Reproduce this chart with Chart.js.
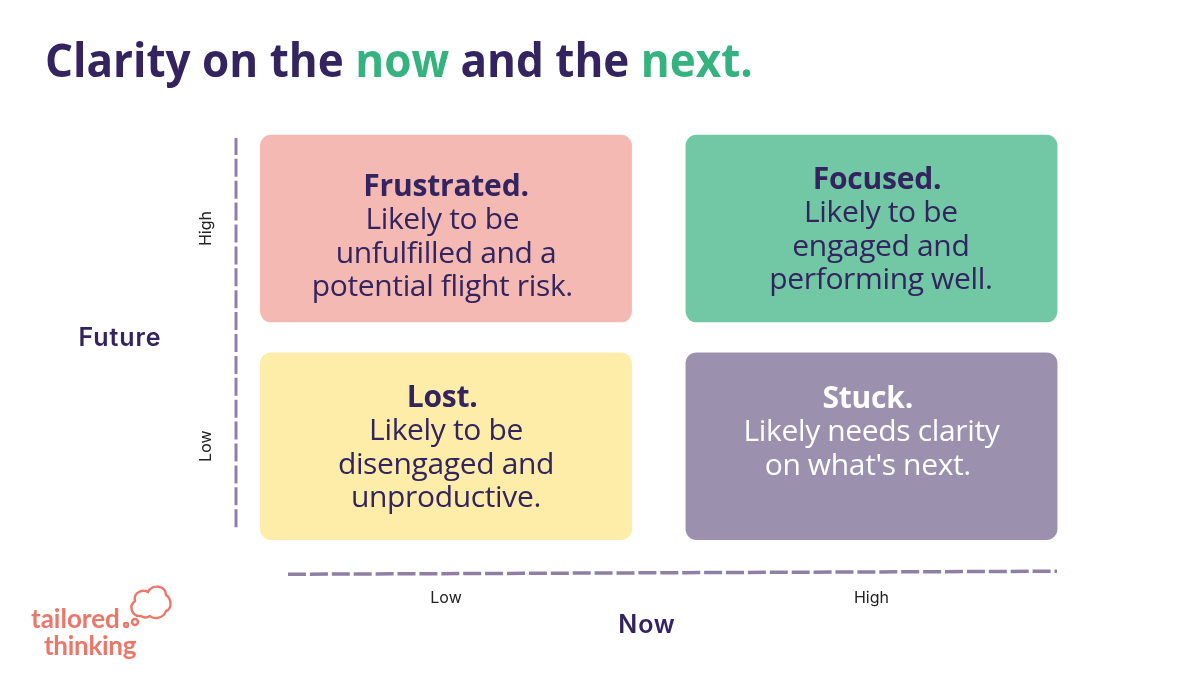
<!DOCTYPE html>
<html>
<head>
<meta charset="utf-8">
<title>Clarity on the now and the next.</title>
<script src="https://cdn.jsdelivr.net/npm/chart.js@4/dist/chart.umd.min.js"></script>
<style>
  html, body { margin: 0; padding: 0; background: #fff; }
  #page { position: relative; width: 1200px; height: 675px; overflow: hidden; }
  #chart { position: absolute; left: 0; top: 0; }
  h1 { position: absolute; left: 45px; top: 28px; margin: 0; font: 700 46px "Open Sans", sans-serif; color: #33235f; white-space: nowrap; transform: scaleX(0.957); transform-origin: left; }
  h1 span { color: #34b27f; }
  .logo { position: absolute; font: 700 26px Lato, sans-serif; color: #e9786a; line-height: 1; white-space: nowrap; letter-spacing: -0.3px; }
  svg { position: absolute; left: 120px; top: 580px; }
</style>
</head>
<body>
<div id="page">
  <canvas id="chart" width="1200" height="675"></canvas>
  <h1>Clarity on the <span>now</span> and the <span>next.</span></h1>
  <div class="logo" style="left:31px;top:605px;letter-spacing:0">tailored</div>
  <div class="logo" style="left:44px;top:632px">thinking</div>
  <svg width="56" height="52" viewBox="0 0 56 52" fill="none" stroke="#e9786a" stroke-width="2.4">
    <path d="M21 36 C12 37 8 26 15 21 C13 12 23 9 28 12 C32 4 46 5 46 15 C52 19 52 29 46 31 C44 38 34 40 30 36 C27 38 24 38 21 36 Z"/>
    <circle cx="15" cy="42" r="3"/>
    <circle cx="6" cy="45" r="2"/>
  </svg>
</div>
<script>
  const categories = ["Low", "High"];
  const yTickValues = [0.5, 1.5];
  const yTickLabels = ["Low", "High"];

  const lowRow = [[0.069, 0.931], [0.069, 0.931]];
  const highRow = [[1.069, 1.931], [1.069, 1.931]];
  const lowRowColors = ["#feeda9", "#9b91ae"];
  const highRowColors = ["#f4b9b3", "#72c7a4"];

  const futureAxisLine = [{ x: 0.0065, y: 0.1276 }, { x: 0.0065, y: 1.916 }];
  const nowAxisLine = [{ x: 0.1287, y: -0.0885 }, { x: 1.936, y: -0.0747 }];

  const cardHeads = ["Frustrated.", "Focused. ", "Lost. ", "Stuck. "];
  const cardLines = [
    ["Likely to be ", "unfulfilled and a", "potential flight risk. "],
    ["Likely to be", "engaged and", "performing well."],
    ["Likely to be", "disengaged and", "unproductive."],
    ["Likely needs clarity", "on what's next. "]
  ];
  const cardX = [0.5, 1.522, 0.5, 1.5];
  const cardY = [1.69, 1.722, 0.72, 0.716];
  const cardTextColors = ["#33235f", "#33235f", "#33235f", "#ffffff"];

  const axisNames = ["Future", "Now"];

  const textPlugin = {
    id: "quadrantText",
    afterDraw(chart) {
      const ctx = chart.ctx;
      const xs = chart.scales.xLine;
      const ys = chart.scales.y;
      ctx.save();
      ctx.textAlign = "center";
      ctx.textBaseline = "middle";
      cardHeads.forEach((head, i) => {
        const x = xs.getPixelForValue(cardX[i]);
        const y = ys.getPixelForValue(cardY[i]);
        ctx.fillStyle = cardTextColors[i];
        ctx.letterSpacing = "-0.2px";
        ctx.font = '700 30px "Open Sans"';
        ctx.fillText(head, x, y);
        ctx.letterSpacing = "-0.35px";
        ctx.font = '400 30px "Open Sans"';
        cardLines[i].forEach((line, j) => {
          ctx.fillText(line, x, y + 33.5 * (j + 1));
        });
      });
      // axis names sit off to the side, not centred on the axes
      ctx.fillStyle = "#33235f";
      ctx.letterSpacing = "0.9px";
      ctx.font = "600 25px Inter";
      ctx.fillText(axisNames[0], 120, ys.getPixelForValue(1) + 1.5);
      ctx.fillText(axisNames[1], 647, 625);
      ctx.restore();
    }
  };

  new Chart(document.getElementById("chart"), {
    type: "bar",
    data: {
      labels: categories,
      datasets: [
        { data: highRow, backgroundColor: highRowColors },
        { data: lowRow, backgroundColor: lowRowColors },
        {
          type: "line", data: futureAxisLine, xAxisID: "xLine",
          borderColor: "#8f7fa5", borderWidth: 3, borderDash: [18, 3.9], pointRadius: 0
        },
        {
          type: "line", data: nowAxisLine, xAxisID: "xLine",
          borderColor: "#8f7fa5", borderWidth: 3.5, borderDash: [18, 3.9], pointRadius: 0
        }
      ]
    },
    plugins: [textPlugin],
    options: {
      responsive: false,
      animation: false,
      layout: { padding: { top: 119.75, right: 115.75 } },
      datasets: {
        bar: {
          grouped: false,
          barPercentage: 0.874,
          categoryPercentage: 1,
          borderRadius: 11,
          borderSkipped: false
        }
      },
      plugins: { legend: { display: false }, tooltip: { enabled: false } },
      scales: {
        x: {
          grid: { display: false, drawTicks: false },
          border: { display: false },
          ticks: { padding: 9, color: "#222", font: { family: "Inter", size: 16 } },
          afterFit(scale) { scale.height = 95; }
        },
        xLine: { type: "linear", display: false, min: 0, max: 2, offset: false },
        y: {
          min: -0.115,
          max: 2,
          grid: { display: false, drawTicks: false },
          border: { display: false },
          afterBuildTicks(scale) { scale.ticks = yTickValues.map(v => ({ value: v })); },
          ticks: {
            padding: 10,
            crossAlign: "center",
            minRotation: 90,
            maxRotation: 90,
            color: "#222",
            font: { family: "Inter", size: 16 },
            callback: v => yTickLabels[yTickValues.indexOf(v)]
          },
          afterFit(scale) { scale.width = 233.25; }
        }
      }
    }
  });
</script>
</body>
</html>
